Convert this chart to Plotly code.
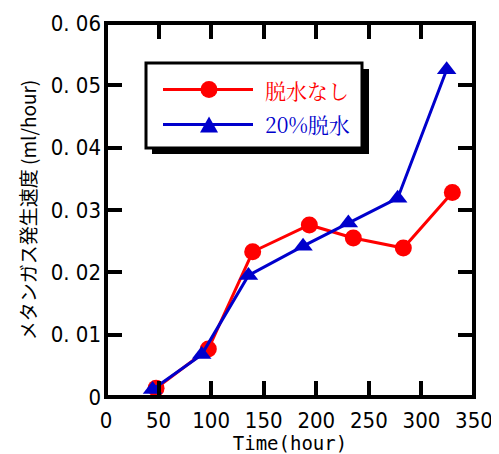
import plotly.graph_objects as go

# ---- data ----
series_names = ["脱水なし", "20%脱水"]
time_nodehyd = [47.6, 97.3, 139.5, 193.4, 235.2, 282.8, 329.4]
rate_nodehyd = [0.0014, 0.0077, 0.0233, 0.0276, 0.0255, 0.0239, 0.0328]
time_dehyd20 = [44.3, 91.0, 135.5, 187.4, 230.5, 277.4, 324.0]
rate_dehyd20 = [0.0012, 0.0068, 0.0195, 0.0242, 0.0279, 0.0319, 0.0525]

x_tickvals = [0, 50, 100, 150, 200, 250, 300, 350]
x_ticktext = ["0", "50", "100", "150", "200", "250", "300", "350"]
y_tickvals = [0, 0.01, 0.02, 0.03, 0.04, 0.05, 0.06]
y_ticktext = ["0", "0. 01", "0. 02", "0. 03", "0. 04", "0. 05", "0. 06"]

x_title = "Time(hour)"
y_title = "メタンガス発生速度 (ml/hour)"

RED = "#ff0000"
BLUE = "#0000cc"
TICKFONT = "Liberation Sans Narrow, DejaVu Sans Condensed, Arial Narrow, sans-serif"
JPFONT = "Noto Sans CJK JP, sans-serif"
SERIF_JP = "Noto Serif CJK JP, Noto Sans CJK JP, serif"

# the page body has an 8px margin, so the figure starts at (8, 8) in the window
OFF = 8
W, H = 499 - OFF, 454 - OFF
L, R, T, B = 106 - OFF, 25, 23 - OFF, 57
PW, PH = W - L - R, H - T - B


def px_to_paper(px, py):
    # px, py are window pixel coordinates (as measured on the reference)
    return (px - OFF - L) / PW, (H - B - (py - OFF)) / PH


fig = go.Figure()
fig.add_trace(go.Scatter(
    x=time_nodehyd, y=rate_nodehyd, name=series_names[0], mode="lines+markers",
    line=dict(color=RED, width=3),
    marker=dict(symbol="circle", size=17, color=RED),
    cliponaxis=False,
))
fig.add_trace(go.Scatter(
    x=time_dehyd20, y=rate_dehyd20, name=series_names[1], mode="lines+markers",
    line=dict(color=BLUE, width=3),
    marker=dict(symbol="triangle-up", size=17, color=BLUE),
    cliponaxis=False,
))

shapes = []
# plot frame centred on the plot-area edges
shapes.append(dict(type="rect", xref="paper", yref="paper", x0=0, x1=1, y0=0, y1=1,
                   line=dict(color="black", width=4), layer="above"))

# ---- custom legend (box with drop shadow) ----
bx0, by0 = px_to_paper(146, 148)
bx1, by1 = px_to_paper(362, 63)
sx0, sy0 = px_to_paper(152, 154)
sx1, sy1 = px_to_paper(369, 69)
shapes.append(dict(type="rect", xref="paper", yref="paper", x0=sx0, x1=sx1, y0=sy0, y1=sy1,
                   line=dict(width=0), fillcolor="black", layer="above"))
shapes.append(dict(type="rect", xref="paper", yref="paper", x0=bx0, x1=bx1, y0=by0, y1=by1,
                   line=dict(color="black", width=3), fillcolor="white", layer="above"))

leg_rows = [(89.5, RED, "circle", series_names[0]), (124.5, BLUE, "triangle", series_names[1])]
annotations = []
for py, col, sym, label in leg_rows:
    lx0, ly = px_to_paper(163, py)
    lx1, _ = px_to_paper(253, py)
    mx, _ = px_to_paper(209, py)
    shapes.append(dict(type="line", xref="paper", yref="paper", x0=lx0, x1=lx1, y0=ly, y1=ly,
                       line=dict(color=col, width=3), layer="above"))
    if sym == "circle":
        shapes.append(dict(type="circle", xref="paper", yref="paper",
                           xsizemode="pixel", ysizemode="pixel", xanchor=mx, yanchor=ly,
                           x0=-8.5, x1=8.5, y0=-8.5, y1=8.5,
                           fillcolor=col, line=dict(width=0), layer="above"))
    else:
        shapes.append(dict(type="path", xref="paper", yref="paper",
                           xsizemode="pixel", ysizemode="pixel", xanchor=mx, yanchor=ly,
                           path="M-9,-8 L9,-8 L0,8 Z",
                           fillcolor=col, line=dict(width=0), layer="above"))
    tx, _ = px_to_paper(263, py)
    annotations.append(dict(x=tx, y=ly, xref="paper", yref="paper", text=label,
                            showarrow=False, xanchor="left", yanchor="middle",
                            font=dict(family=SERIF_JP, size=21, color=col)))

fig.update_layout(
    width=W, height=H,
    margin=dict(l=L, r=R, t=T, b=B, autoexpand=False),
    paper_bgcolor="white", plot_bgcolor="white",
    showlegend=False,
    shapes=shapes, annotations=annotations,
    xaxis=dict(
        range=[0, 350], tickvals=x_tickvals, ticktext=x_ticktext,
        showgrid=False, zeroline=False, showline=False,
        ticks="inside", ticklen=16, tickwidth=4, tickcolor="black", mirror="ticks",
        tickfont=dict(family=TICKFONT, size=22, color="black"),
        ticklabelstandoff=8,
        title=dict(text=x_title, font=dict(family="DejaVu Sans Mono, monospace", size=19, color="black"),
                   standoff=3),
        automargin=False,
    ),
    yaxis=dict(
        range=[0, 0.06], tickvals=y_tickvals, ticktext=y_ticktext,
        showgrid=False, zeroline=False, showline=False,
        ticks="inside", ticklen=16, tickwidth=4, tickcolor="black", mirror="ticks",
        tickfont=dict(family=TICKFONT, size=22, color="black"),
        ticklabelstandoff=4,
        title=dict(text=y_title, font=dict(family=JPFONT, size=19, color="black"),
                   standoff=9),
        automargin=False,
    ),
)

fig.write_html("out.html")
